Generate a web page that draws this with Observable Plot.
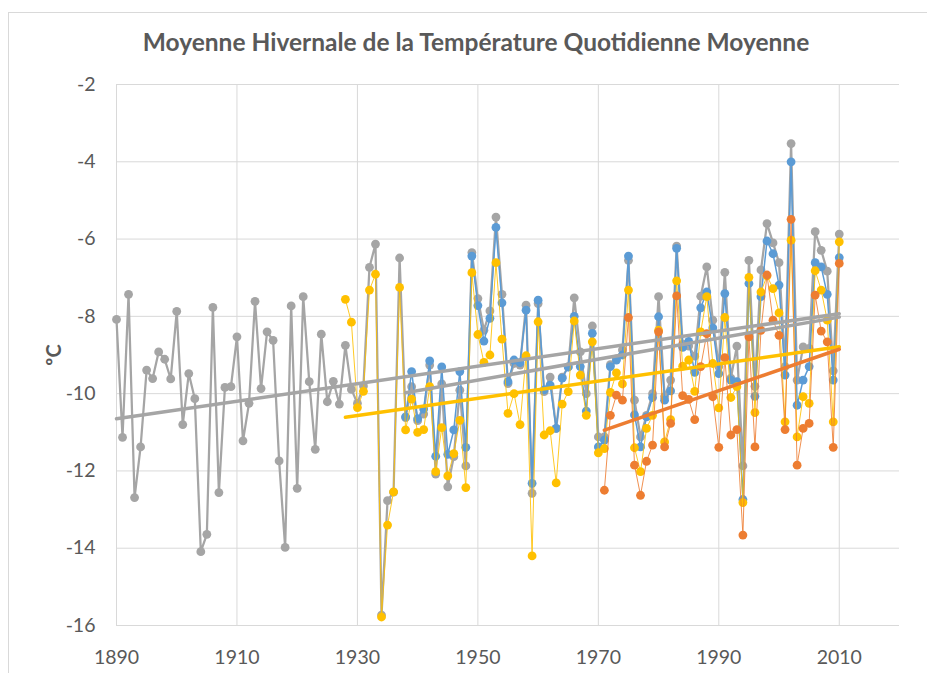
<!DOCTYPE html>
<html><head><meta charset="utf-8">
<script src="https://cdn.jsdelivr.net/npm/d3@7"></script>
<script src="https://cdn.jsdelivr.net/npm/@observablehq/plot@0.6"></script>
<style>
body{margin:0;background:#fff;}
#wrap{position:relative;width:927px;height:673px;overflow:hidden;font-family:Lato,"Open Sans",sans-serif;}
#frame{position:absolute;left:8px;top:12px;width:1000px;height:1000px;border:1px solid #d9d9d9;}
#chart{position:absolute;left:0;top:0;}
#title{position:absolute;left:0;width:952px;top:30px;line-height:1;text-align:center;font-weight:bold;font-size:24.5px;color:#595959;}
#ylab{position:absolute;left:53px;top:355px;line-height:1;transform:translate(-50%,-50%) rotate(-90deg);font-size:20px;font-weight:bold;color:#595959;white-space:nowrap;}
</style></head>
<body><div id="wrap"><div id="frame"></div><div id="chart"></div>
<div id="title">Moyenne Hivernale de la Température Quotidienne Moyenne</div>
<div id="ylab">ºC</div></div>
<script>
// ---- data ----
const grayStart = 1890;
const grayValues = [-8.08,-11.13,-7.43,-12.69,-11.38,-9.39,-9.61,-8.92,-9.11,-9.62,
 -7.87,-10.80,-9.48,-10.13,-14.09,-13.64,-7.77,-12.56,-9.84,-9.82,
 -8.53,-11.22,-10.25,-7.61,-9.87,-8.40,-8.62,-11.74,-13.98,-7.73,
 -12.45,-7.49,-9.69,-11.44,-8.46,-10.21,-9.68,-10.27,-8.75,-9.89,
 -10.25,-9.80,-6.73,-6.13,-15.73,-12.77,-12.55,-6.49,-10.62,-9.82,
 -10.70,-10.53,-9.26,-12.08,-9.75,-12.41,-11.63,-9.91,-11.87,-6.35,
 -7.54,-8.36,-7.86,-5.43,-7.43,-9.74,-9.22,-9.26,-7.71,-12.58,
 -7.67,-9.95,-9.57,-10.90,-9.57,-9.31,-7.52,-8.92,-10.00,-8.25,
 -11.12,-11.12,-9.25,-9.10,-8.87,-6.55,-10.17,-11.12,-10.56,-10.00,
 -7.49,-10.08,-9.65,-6.18,-8.72,-8.77,-9.03,-7.48,-6.72,-8.10,
 -9.30,-6.86,-9.60,-8.77,-11.87,-6.55,-9.81,-6.80,-5.60,-6.10,
 -6.61,-9.30,-3.53,-9.65,-8.79,-8.83,-5.81,-6.29,-6.83,-9.41,
 -5.87];
const blueStart = 1938;
const blueValues = [-10.60,-9.43,
 -10.65,-10.40,-9.15,-11.62,-9.31,-11.57,-10.94,-9.43,-11.39,-6.44,
 -7.72,-8.64,-8.05,-5.70,-7.65,-9.69,-9.13,-9.20,-7.84,-12.32,
 -7.58,-9.90,-9.78,-10.90,-9.60,-9.31,-8.00,-9.30,-10.45,-8.44,
 -11.38,-11.20,-9.30,-9.13,-9.00,-6.44,-10.55,-11.38,-10.60,-10.10,
 -8.01,-10.17,-9.93,-6.24,-8.80,-8.65,-9.45,-7.78,-7.37,-8.30,
 -9.48,-7.41,-9.65,-9.69,-12.74,-7.15,-10.07,-7.49,-6.05,-6.38,
 -7.19,-9.52,-4.00,-10.30,-9.65,-9.30,-6.61,-6.72,-7.43,-9.65,
 -6.48];
const yellowStart = 1928;
const yellowValues = [-7.56,-8.15,
 -10.36,-9.94,-7.32,-6.91,-15.78,-13.40,-12.54,-7.25,-10.94,-10.14,
 -11.00,-10.93,-9.82,-12.02,-10.88,-12.13,-11.55,-10.69,-12.43,-6.87,
 -8.47,-9.19,-9.00,-6.61,-8.59,-10.51,-10.00,-10.80,-9.02,-14.20,
 -8.14,-11.07,-10.96,-12.31,-10.27,-9.95,-8.12,-9.52,-10.56,-8.66,
 -11.53,-11.42,-9.97,-9.46,-9.75,-7.32,-11.40,-12.02,-10.90,-10.56,
 -8.36,-11.25,-10.67,-7.08,-9.29,-9.13,-9.94,-8.40,-7.49,-9.22,
 -10.37,-8.03,-10.10,-9.82,-12.82,-6.99,-10.49,-7.37,-6.95,-7.28,
 -7.91,-10.73,-6.03,-11.12,-10.08,-10.25,-6.82,-7.32,-8.10,-10.73,
 -6.07];
const orangeStart = 1971;
const orangeValues = [-12.50,-10.56,-10.04,-10.17,-8.03,-11.85,-12.63,-11.75,-11.33,
 -8.40,-11.38,-10.77,-7.47,-10.05,-10.15,-10.67,-9.30,-8.45,-10.08,
 -11.39,-9.07,-11.07,-10.93,-13.66,-8.53,-11.38,-8.36,-6.93,-8.10,
 -8.49,-10.93,-5.49,-11.85,-10.90,-10.77,-7.45,-8.38,-8.66,-11.39,
 -6.63];
const xTicks = [1890,1910,1930,1950,1970,1990,2010];
const yTicks = [-16,-14,-12,-10,-8,-6,-4,-2];

// ---- styles ----
const toRows = (start, values) => values.map((v, i) => ({year: start + i, value: v}));
const series = [
  {rows: toRows(grayStart, grayValues),     color: "#A5A5A5", lw: 2.25, trend: "#A5A5A5"},
  {rows: toRows(blueStart, blueValues),     color: "#5B9BD5", lw: 1.5,  trend: "#A5A5A5"},
  {rows: toRows(yellowStart, yellowValues), color: "#FFC000", lw: 1,    trend: "#FFC000"},
  {rows: toRows(orangeStart, orangeValues), color: "#ED7D31", lw: 1,    trend: "#ED7D31"}
];

const marks = [
  Plot.gridX(xTicks, {stroke: "#d9d9d9", strokeOpacity: 1}),
  Plot.gridY(yTicks, {stroke: "#d9d9d9", strokeOpacity: 1}),
  Plot.axisX(xTicks, {tickSize: 0, tickPadding: 25, fontSize: 19.5, fill: "#595959", tickFormat: d => String(d), label: null}),
  Plot.axisY(yTicks, {tickSize: 0, tickPadding: 21, fontSize: 19.5, fill: "#595959", tickFormat: d => String(d), label: null})
];
for (const s of series) {
  marks.push(Plot.line(s.rows, {x: "year", y: "value", stroke: s.color, strokeWidth: s.lw, strokeOpacity: s.lw < 1.5 ? 0.85 : 1}));
  marks.push(Plot.dot(s.rows, {x: "year", y: "value", r: 4.4, fill: s.color, stroke: "none"}));
}
for (const s of series) {
  marks.push(Plot.linearRegressionY(s.rows, {x: "year", y: "value", stroke: s.trend, strokeWidth: 3.5, ci: 0}));
}

const chart = Plot.plot({
  width: 927, height: 673,
  marginLeft: 116, marginRight: 28, marginTop: 84, marginBottom: 48,
  x: {domain: [1890, 2020]},
  y: {domain: [-16, -2]},
  style: {fontFamily: "Lato, 'Open Sans', sans-serif", background: "transparent", overflow: "visible"},
  marks
});
document.getElementById("chart").append(chart);
</script>
</body></html>
